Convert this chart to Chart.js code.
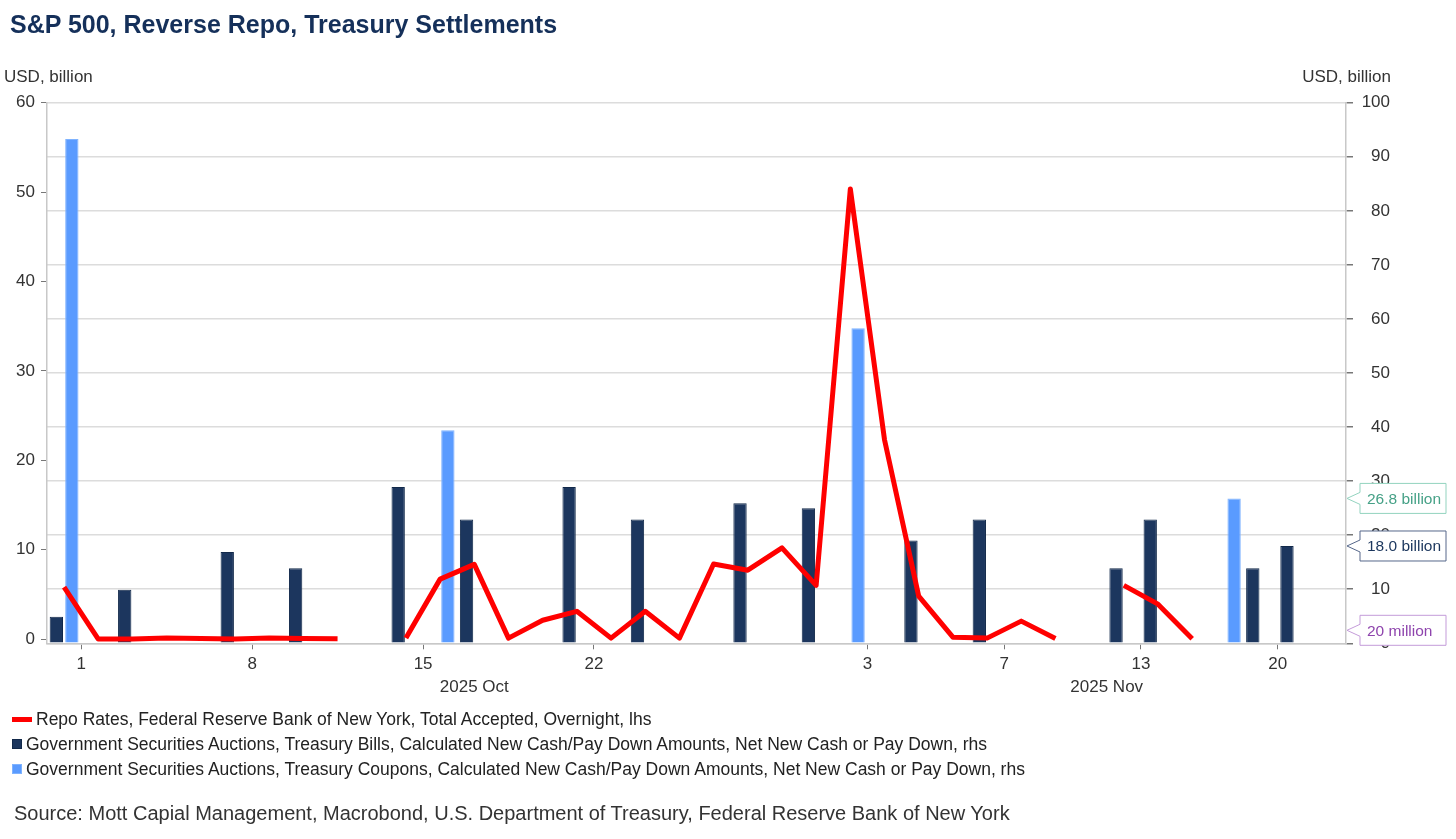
<!DOCTYPE html>
<html>
<head>
<meta charset="utf-8">
<title>S&amp;P 500, Reverse Repo, Treasury Settlements</title>
<script src="https://cdn.jsdelivr.net/npm/chart.js@4.4.1/dist/chart.umd.min.js"></script>
<style>
  html, body { margin: 0; padding: 0; background: #fff; }
  body { width: 1456px; height: 839px; position: relative; overflow: hidden; font-family: "Liberation Sans", Arial, sans-serif; }
  #wrap { position: absolute; left: 0; top: 0; width: 1456px; height: 839px; }
  #title { position: absolute; left: 10px; top: 9px; font-size: 25px; font-weight: bold; color: #15305a; line-height: 30px; white-space: nowrap; }
  #legend { position: absolute; left: 12px; top: 706.5px; font-size: 17.5px; color: #222; }
  .item { height: 25px; display: flex; align-items: center; white-space: nowrap; }
  .mark { margin-right: 4px; flex: none; }
  #source { position: absolute; left: 14px; top: 801px; font-size: 20px; color: #333; line-height: 24px; white-space: nowrap; }
</style>
</head>
<body>
<div id="wrap"><canvas id="chart"></canvas></div>
<div id="title">S&amp;P 500, Reverse Repo, Treasury Settlements</div>
<div id="legend"></div>
<div id="source">Source: Mott Capial Management, Macrobond, U.S. Department of Treasury, Federal Reserve Bank of New York</div>
<script>
// business-day calendar shown on the x axis
const days = [
  "2025-09-30", "2025-10-01", "2025-10-02", "2025-10-03",
  "2025-10-06", "2025-10-07", "2025-10-08", "2025-10-09", "2025-10-10",
  "2025-10-13", "2025-10-14", "2025-10-15", "2025-10-16", "2025-10-17",
  "2025-10-20", "2025-10-21", "2025-10-22", "2025-10-23", "2025-10-24",
  "2025-10-27", "2025-10-28", "2025-10-29", "2025-10-30", "2025-10-31",
  "2025-11-03", "2025-11-04", "2025-11-05", "2025-11-06", "2025-11-07",
  "2025-11-10", "2025-11-11", "2025-11-12", "2025-11-13", "2025-11-14",
  "2025-11-17", "2025-11-18", "2025-11-19", "2025-11-20",
];

// day labels as printed under the axis (blank = no label)
const tickDays = [
  "", "1", "", "", "", "", "8", "", "", "", "", "15", "", "", "", "", "22", "", "", "",
  "", "", "", "", "3", "", "", "", "7", "", "", "", "13", "", "", "", "20", "",
];

const monthKeys = ["2025-10", "2025-11"];
const monthNames = ["2025 Oct", "2025 Nov"];

// Repo total accepted, USD bn (lhs)
const repoAccepted = [
  5.8, 0, 0, 0.1, 0.05, 0, 0.1, 0.05, 0.02,
  null, 0.1, 6.7, 8.35, 0.1, 2.1, 3.1, 0.1, 3.1, 0.1,
  8.4, 7.7, 10.2, 6.0, 50.35, 22.3, 4.8, 0.2, 0.1, 2.0,
  0.05, null, 6.0, 3.9, 0.02, null, null, null, null,
];

// Treasury bills net new cash, USD bn (rhs)
const billsNet = [
  4.9, null, 9.9, null, null, 16.9, null, 13.9, null,
  null, 28.9, null, 22.9, null, null, 28.9, null, 22.9, null,
  null, 25.9, null, 25.0, null, null, 19.0, null, 22.9, null,
  null, null, 13.9, 22.9, null, null, 13.9, 18.0, null,
];

// Treasury coupons net new cash, USD bn (rhs)
const couponsNet = [
  93.3, null, null, null, null, null, null, null, null,
  null, null, 39.4, null, null, null, null, null, null, null,
  null, null, null, null, 58.3, null, null, null, null, null,
  null, null, null, null, null, 26.8, null, null, null,
];

const leftTicks = [0, 10, 20, 30, 40, 50, 60];

const seriesLabels = [
  "Repo Rates, Federal Reserve Bank of New York, Total Accepted, Overnight, lhs",
  "Government Securities Auctions, Treasury Bills, Calculated New Cash/Pay Down Amounts, Net New Cash or Pay Down, rhs",
  "Government Securities Auctions, Treasury Coupons, Calculated New Cash/Pay Down Amounts, Net New Cash or Pay Down, rhs",
];

const RED = "#ff0000";
const NAVY = "#1c365e";
const SKY = "#5a9bff";
const FONT = '"Liberation Sans", Arial, sans-serif';

Chart.defaults.font.family = FONT;
Chart.defaults.font.size = 17;
Chart.defaults.color = "#333";

function lastValue(arr) {
  for (let i = arr.length - 1; i >= 0; i--) {
    if (arr[i] !== null) return arr[i];
  }
  return null;
}

function fmtLast(v) {
  if (v >= 1) return v.toFixed(1) + " billion";
  return Math.round(v * 1000) + " million";
}

const endTags = [
  { data: couponsNet, axis: "y1", text: "#46a187", line: "#93d3bf" },
  { data: billsNet, axis: "y1", text: "#1b365d", line: "#56678a" },
  { data: repoAccepted, axis: "y", text: "#8e44ad", line: "#c49bd9" },
];

const overlay = {
  id: "overlay",
  afterDraw(chart) {
    const { ctx, chartArea, scales } = chart;
    ctx.save();
    ctx.font = "17px " + FONT;
    ctx.fillStyle = "#333";
    ctx.textBaseline = "middle";

    // unit captions
    ctx.textAlign = "left";
    ctx.fillText("USD, billion", 4, chartArea.top - 25);
    ctx.textAlign = "right";
    ctx.fillText("USD, billion", scales.y1.right + 1, chartArea.top - 25);

    // month captions centred under each month's days
    ctx.textAlign = "center";
    monthKeys.forEach((key, m) => {
      const idx = days.map((d, i) => (d.startsWith(key) ? i : -1)).filter((i) => i >= 0);
      const x0 = scales.x.getPixelForValue(idx[0]);
      const x1 = scales.x.getPixelForValue(idx[idx.length - 1]);
      ctx.fillText(monthNames[m], (x0 + x1) / 2, chartArea.bottom + 44);
    });

    // last-value tags on the right
    ctx.font = "15.5px " + FONT;
    ctx.textAlign = "left";
    endTags.forEach((t) => {
      const v = lastValue(t.data);
      let yc = scales[t.axis].getPixelForValue(v);
      yc = Math.min(yc, chartArea.bottom - 13);
      const tip = chartArea.right + 1;
      const bx = tip + 13;
      const bw = 86;
      const bh = 30;
      ctx.beginPath();
      ctx.moveTo(tip, yc);
      ctx.lineTo(bx, yc - 6);
      ctx.lineTo(bx, yc - bh / 2);
      ctx.lineTo(bx + bw, yc - bh / 2);
      ctx.lineTo(bx + bw, yc + bh / 2);
      ctx.lineTo(bx, yc + bh / 2);
      ctx.lineTo(bx, yc + 6);
      ctx.closePath();
      ctx.fillStyle = "#fff";
      ctx.fill();
      ctx.strokeStyle = t.line;
      ctx.lineWidth = 1;
      ctx.stroke();
      ctx.fillStyle = t.text;
      ctx.fillText(fmtLast(v), bx + 7, yc + 1);
    });
    ctx.restore();
  },
};

const chart = new Chart(document.getElementById("chart"), {
  type: "bar",
  data: {
    labels: days,
    datasets: [
      {
        type: "line",
        label: seriesLabels[0],
        data: repoAccepted,
        yAxisID: "y",
        borderColor: RED,
        backgroundColor: RED,
        borderWidth: 5,
        borderJoinStyle: "round",
        pointRadius: 0,
        tension: 0,
        spanGaps: false,
        order: 0,
      },
      {
        label: seriesLabels[1],
        data: billsNet,
        yAxisID: "y1",
        backgroundColor: NAVY,
        borderColor: "#12294a",
        borderWidth: 1,
        categoryPercentage: 0.907,
        barPercentage: 0.86,
        order: 1,
      },
      {
        label: seriesLabels[2],
        data: couponsNet,
        yAxisID: "y1",
        backgroundColor: SKY,
        borderColor: "#7fb3ff",
        borderWidth: 1,
        categoryPercentage: 0.907,
        barPercentage: 0.86,
        order: 2,
      },
    ],
  },
  options: {
    responsive: true,
    maintainAspectRatio: false,
    animation: false,
    layout: { padding: { top: 102.7, right: 66, bottom: 0, left: 0 } },
    plugins: {
      legend: { display: false },
      tooltip: { enabled: false },
    },
    scales: {
      x: {
        offset: true,
        grid: {
          offset: true,
          drawOnChartArea: false,
          tickLength: 6,
          tickWidth: 1,
          tickColor: (c) => (tickDays[c.index] ? "#777" : "rgba(0,0,0,0)"),
        },
        border: { color: "#c8c8c8", width: 1.5 },
        ticks: {
          autoSkip: false,
          maxRotation: 0,
          padding: 5,
          labelOffset: -17,
          callback: (value, index) => tickDays[index],
        },
        afterFit: (s) => { s.height = 195.7; },
      },
      y: {
        position: "left",
        min: -0.48,
        max: 60,
        afterBuildTicks: (s) => { s.ticks = leftTicks.map((v) => ({ value: v })); },
        grid: { drawOnChartArea: false, tickLength: 6, tickColor: "#777" },
        border: { color: "#c8c8c8", width: 1.5 },
        ticks: { padding: 6 },
        afterFit: (s) => { s.width = 47; },
      },
      y1: {
        position: "right",
        min: 0,
        max: 100,
        grid: { color: "#dcdcdc", lineWidth: 1.5, tickLength: 7, tickColor: "#777" },
        border: { color: "#c8c8c8", width: 1.5 },
        ticks: { stepSize: 10, padding: 8, crossAlign: "far" },
        afterFit: (s) => { s.width = 44; },
      },
    },
  },
  plugins: [overlay],
});

// legend built from the datasets
const legend = document.getElementById("legend");
chart.data.datasets.forEach((ds) => {
  const row = document.createElement("div");
  row.className = "item";
  const mark = document.createElement("span");
  mark.className = "mark";
  if (ds.type === "line") {
    mark.style.cssText = "width:20px;height:5px;background:" + ds.borderColor;
  } else {
    mark.style.cssText = "width:10px;height:10px;box-sizing:border-box;background:" + ds.backgroundColor + ";border:1px solid " + ds.borderColor;
  }
  row.appendChild(mark);
  row.appendChild(document.createTextNode(ds.label));
  legend.appendChild(row);
});
</script>
</body>
</html>
